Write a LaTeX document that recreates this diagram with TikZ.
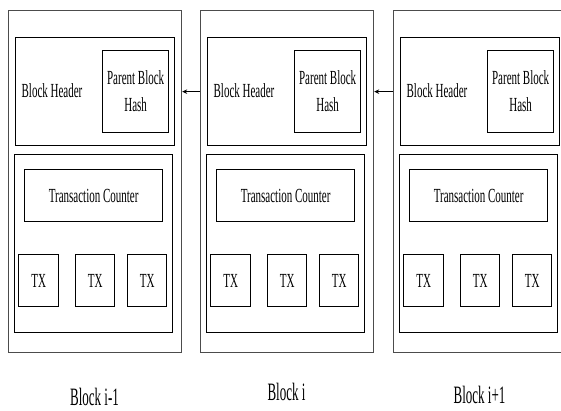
\documentclass[tikz,border=0pt]{standalone}
\usepackage{fontspec}
\setmainfont{Liberation Serif}
\newfontfamily\condfont[FakeStretch=0.55]{Liberation Serif}
\newfontfamily\labfont[FakeStretch=0.52]{Liberation Serif}
\usetikzlibrary{arrows.meta}
\begin{document}
\begin{tikzpicture}[x=1pt,y=-1pt,
  outerbox/.style={draw=black!70, line width=1.2pt, inner sep=0pt, anchor=north west},
  innerbox/.style={draw=black, line width=1.3pt, inner sep=0pt, anchor=north west},
  txt/.style={font=\condfont\fontsize{20}{27}\selectfont, inner sep=0pt},
  lab/.style={font=\labfont\fontsize{25}{30}\selectfont, inner sep=0pt},
  link/.style={draw=black, line width=0.8pt, -{Stealth[length=5pt,width=4.5pt]}}]
\useasboundingbox (0,0) rectangle (561,411);
\clip (0,0) rectangle (561,411);
\foreach \k/\ox/\lab/\ly in {a/8/{Block i-1}/397, b/200/{Block i}/392, c/393/{Block i+1}/395}{
  \node[outerbox, minimum width=173pt, minimum height=342pt] (\k-out) at (\ox,10) {};
  \node[innerbox, minimum width=159pt, minimum height=108pt] (\k-head) at (\ox+7,37) {};
  \node[innerbox, minimum width=66pt, minimum height=82pt, align=center, txt] (\k-par) at (\ox+94,50) {Parent Block\\Hash};
  \node[txt] (\k-bh) at (\ox+44,91) {Block Header};
  \node[innerbox, minimum width=158pt, minimum height=178pt] (\k-txs) at (\ox+6,154) {};
  \node[innerbox, minimum width=138pt, minimum height=52pt, txt] (\k-tc) at (\ox+16,169) {Transaction Counter};
  \node[innerbox, minimum width=40pt, minimum height=52pt, txt] (\k-tx1) at (\ox+10,254) {TX};
  \node[innerbox, minimum width=39pt, minimum height=52pt, txt] (\k-tx2) at (\ox+67,254) {TX};
  \node[innerbox, minimum width=39pt, minimum height=52pt, txt] (\k-tx3) at (\ox+119,254) {TX};
  \node[lab] (\k-lab) at (\ox+86.5,\ly) {\lab};
}
\draw[link] (b-out.west |- a-par) -- (a-out.east |- a-par);
\draw[link] (c-out.west |- b-par) -- (b-out.east |- b-par);
\end{tikzpicture}
\end{document}
